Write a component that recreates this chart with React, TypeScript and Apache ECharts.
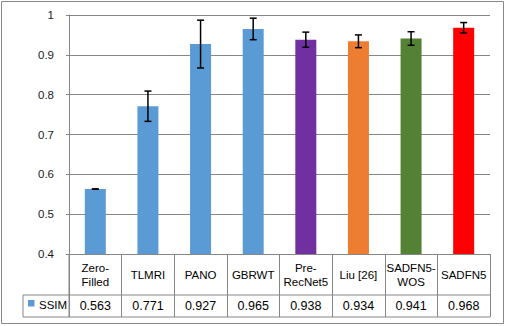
import React, { useEffect, useRef } from "react";
import * as echarts from "echarts";

const categories = ["Zero-\nFilled", "TLMRI", "PANO", "GBRWT", "Pre-\nRecNet5", "Liu [26]", "SADFN5-\nWOS", "SADFN5"];
const ssim = [0.563, 0.771, 0.927, 0.965, 0.938, 0.934, 0.941, 0.968];
const ssimStd = [0.0005, 0.038, 0.06, 0.027, 0.019, 0.016, 0.017, 0.013];
const barColors = ["#5B9BD5", "#5B9BD5", "#5B9BD5", "#5B9BD5", "#7030A0", "#ED7D31", "#548235", "#FF0000"];
const yTicks = { min: 0.4, max: 1, interval: 0.1 };
const seriesName = "SSIM";

const W = 506;
const H = 326;
const GRID = { left: 69, right: 16, top: 15, bottom: 72 };
const FONT = "Liberation Sans";
const LINE = "#868686";

export default function App() {
  const ref = useRef<HTMLDivElement>(null);
  useEffect(() => {
    if (!ref.current) return;
    const chart = echarts.init(ref.current, null, { renderer: "svg" });
    const axisBottom = H - GRID.bottom; // 254
    const row1 = axisBottom + 41;
    const row2 = axisBottom + 63;
    const plotLeft = GRID.left;
    const plotRight = W - GRID.right;
    const legendLeft = 23;

    chart.setOption({
      animation: false,
      backgroundColor: "#fff",
      grid: { ...GRID, containLabel: false },
      xAxis: [
        {
          type: "category",
          position: "bottom",
          data: categories,
          axisLine: { show: true, lineStyle: { color: LINE, width: 1 } },
          axisTick: { show: true, length: 63, lineStyle: { color: LINE, width: 1 } },
          axisLabel: {
            interval: 0,
            margin: 20.5,
            verticalAlign: "middle",
            lineHeight: 14,
            fontFamily: FONT,
            fontSize: 11.5,
            color: "#000",
          },
          splitLine: { show: false },
        },
        {
          type: "category",
          position: "bottom",
          offset: 0,
          data: ssim.map((v) => v.toFixed(3)),
          axisLine: { show: false },
          axisTick: { show: false },
          axisLabel: {
            interval: 0,
            margin: 52,
            verticalAlign: "middle",
            fontFamily: FONT,
            fontSize: 12.5,
            color: "#000",
          },
          splitLine: { show: false },
        },
      ],
      yAxis: {
        type: "value",
        min: yTicks.min,
        max: yTicks.max,
        interval: yTicks.interval,
        axisLine: { show: true, lineStyle: { color: LINE, width: 1 } },
        axisTick: { show: true, length: 3, lineStyle: { color: LINE } },
        axisLabel: {
          margin: 15,
          fontFamily: FONT,
          fontSize: 11.5,
          color: "#1a1a1a",
          formatter: (v: number) => String(Math.round(v * 10) / 10),
        },
        splitLine: { show: true, lineStyle: { color: LINE, width: 1 } },
      },
      series: [
        {
          name: seriesName,
          type: "bar",
          xAxisIndex: 0,
          barWidth: 21,
          itemStyle: { color: barColors[0] },
          data: ssim.map((v, i) => ({ value: v, itemStyle: { color: barColors[i] } })),
        },
        {
          type: "custom",
          xAxisIndex: 0,
          z: 5,
          encode: { x: 0, y: [1, 2] },
          data: ssim.map((v, i) => [i, v - ssimStd[i], v + ssimStd[i]]),
          renderItem: (params: any, api: any) => {
            const x = api.value(0);
            const lo = api.coord([x, api.value(1)]);
            const hi = api.coord([x, api.value(2)]);
            const hw = 3.5;
            const style = { stroke: "#000", lineWidth: 1.5 };
            return {
              type: "group",
              children: [
                { type: "line", shape: { x1: hi[0], y1: hi[1], x2: lo[0], y2: lo[1] }, style },
                { type: "line", shape: { x1: hi[0] - hw, y1: hi[1], x2: hi[0] + hw, y2: hi[1] }, style },
                { type: "line", shape: { x1: lo[0] - hw, y1: lo[1], x2: lo[0] + hw, y2: lo[1] }, style },
              ],
            };
          },
        },
      ],
      graphic: [
        {
          type: "rect",
          shape: { x: 1.5, y: 1.5, width: 502, height: 322 },
          style: { fill: "none", stroke: "#898989", lineWidth: 1 },
          silent: true,
        },
        {
          type: "line",
          shape: { x1: legendLeft, y1: row1, x2: plotRight, y2: row1 },
          style: { stroke: LINE, lineWidth: 1 },
        },
        {
          type: "line",
          shape: { x1: legendLeft, y1: row2, x2: plotRight, y2: row2 },
          style: { stroke: LINE, lineWidth: 1 },
        },
        {
          type: "line",
          shape: { x1: legendLeft, y1: row1, x2: legendLeft, y2: row2 },
          style: { stroke: LINE, lineWidth: 1 },
        },
        {
          type: "line",
          shape: { x1: plotLeft, y1: axisBottom, x2: plotLeft, y2: row2 },
          style: { stroke: LINE, lineWidth: 1 },
        },
        {
          type: "rect",
          shape: { x: 28, y: 300, width: 6.5, height: 6.5 },
          style: { fill: barColors[0] },
        },
        {
          type: "text",
          x: 39,
          y: (row1 + row2) / 2 - 1.5,
          style: {
            text: seriesName,
            fontFamily: FONT,
            fontSize: 11.5,
            fill: "#000",
            verticalAlign: "middle",
            align: "left",
          },
        },
      ],
    });
    return () => chart.dispose();
  }, []);
  return (
    <div
      ref={ref}
      style={{ position: "fixed", left: 0, top: 0, width: W, height: H, background: "#fff" }}
    />
  );
}
